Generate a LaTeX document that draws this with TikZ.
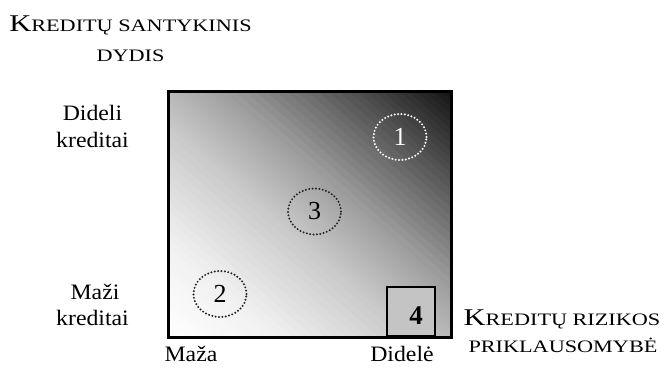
\documentclass[tikz,border=0pt]{standalone}
\usepackage{fontspec}
\setmainfont{Liberation Serif}
\newfontfamily\capsfont[FakeStretch=1.27]{Liberation Serif}
\newfontfamily\bodyfont[FakeStretch=1.08]{Liberation Serif}
\usetikzlibrary{shapes.geometric}

\definecolor{boxgrey}{gray}{0.77}

% faked small capitals for the axis titles
\newcommand\bigcp[1]{{\fontsize{24}{24}\selectfont #1}}
\newcommand\smallcp[1]{{\fontsize{17.5}{17.5}\selectfont #1}}

\tikzset{
  axistitle/.style={inner sep=0pt, anchor=base, font=\capsfont},
  ticklabel/.style={inner sep=0pt, anchor=base, font=\bodyfont\fontsize{22}{26}\selectfont},
  zone/.style={ellipse, minimum width=53pt, minimum height=46pt, inner sep=0pt,
    line width=2.2pt, line cap=round, dash pattern=on 0pt off 3.4pt,
    font=\fontsize{26}{26}\selectfont},
}

\begin{document}
\begin{tikzpicture}[x=1pt, y=-1pt]
\useasboundingbox (0,0) rectangle (665,369);

% field outline (filled by the ramp below)
\node[minimum width=282pt, minimum height=245pt, inner sep=0pt] (field) at (310,214.5) {};

% diagonal grey ramp: white at the lower left corner, near black at the upper right
\begin{scope}
  \clip (field.north west) rectangle (field.south east);
  \begin{scope}[shift={(169,337)}, x={(282pt,0pt)}, y={(0pt,245pt)}]
    \foreach \ta/\tb/\ga/\gb in {0/0.2/100/94, 0.2/0.43/94/79, 0.43/0.5/79/72,
        0.5/0.6/72/62, 0.6/0.82/62/33, 0.82/1/33/8} {
      \foreach \k in {0,...,11} {
        \pgfmathsetmacro\tlo{2*(\ta+(\tb-\ta)*\k/12)}
        \pgfmathsetmacro\thi{2*(\ta+(\tb-\ta)*(\k+1.4)/12)}
        \pgfmathsetmacro\gv{100-(\ga+(\gb-\ga)*(\k+0.5)/12)}
        \fill[black!\gv!white] (\tlo+2,-2) -- (\thi+2,-2) -- (\thi-2,2) -- (\tlo-2,2) -- cycle;
      }
    }
  \end{scope}
\end{scope}

% highlighted corner cell
\node[draw, line width=1.8pt, fill=boxgrey, minimum width=48pt, minimum height=49pt,
      inner sep=0pt, anchor=south east] (cell) at (435.5,337) {};
\node[inner sep=0pt, font=\fontsize{27}{27}\selectfont\bfseries] (n4) at (416,315.5) {4};

% frame of the field
\draw[line width=3pt] (field.north west) rectangle (field.south east);

% dotted zones
\node[zone, draw=white, text=white] (z1) at (400,137) {1};
\node[zone, draw=black!85] (z3) at (314.5,211.5) {3};
\node[zone, draw=black!85] (z2) at (220,294) {2};

% vertical axis title
\node[axistitle] (yt1) at (130.5,32) {\bigcp{K}\smallcp{REDITŲ SANTYKINIS}};
\node[axistitle] (yt2) at (130.5,62) {\smallcp{DYDIS}};

% horizontal axis title
\node[axistitle] (xt1) at (562,325) {\bigcp{K}\smallcp{REDITŲ RIZIKOS}};
\node[axistitle] (xt2) at (563,352) {\smallcp{PRIKLAUSOMYBĖ}};

% vertical tick labels
\node[ticklabel] (hi1) at (92.5,121) {Dideli};
\node[ticklabel] (hi2) at (92.5,147) {kreditai};
\node[ticklabel] (lo1) at (95,299) {Maži};
\node[ticklabel] (lo2) at (92.5,325) {kreditai};

% horizontal tick labels
\node[ticklabel] (xl) at (191,361) {Maža};
\node[ticklabel] (xh) at (402,361) {Didelė};
\end{tikzpicture}
\end{document}
